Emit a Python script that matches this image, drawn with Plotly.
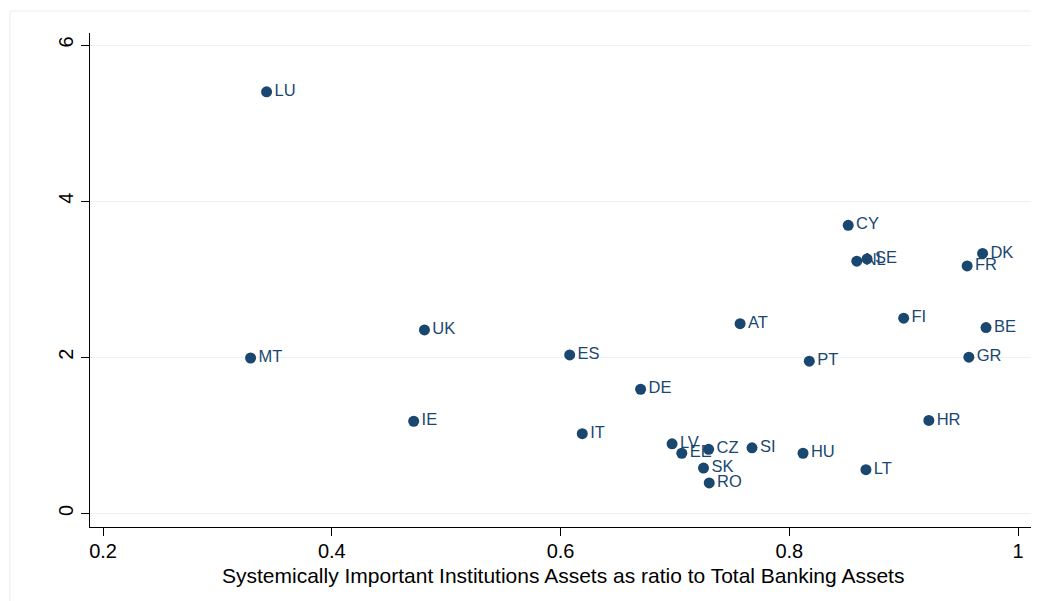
import plotly.graph_objects as go

countries = ["LU", "CY", "NL", "SE", "DK", "FR", "FI", "BE", "GR", "AT", "PT",
             "UK", "MT", "ES", "DE", "IE", "IT", "HR", "LV", "EE", "CZ", "SI",
             "HU", "SK", "RO", "LT"]
sii_ratio = [0.343, 0.8515, 0.859, 0.868, 0.969, 0.9555, 0.900, 0.972, 0.957, 0.757, 0.8175,
             0.481, 0.329, 0.608, 0.670, 0.4716, 0.619, 0.922, 0.6975, 0.706, 0.7295, 0.7674,
             0.812, 0.725, 0.730, 0.867]
y_value = [5.40, 3.69, 3.23, 3.26, 3.33, 3.17, 2.50, 2.38, 2.00, 2.43, 1.95,
           2.35, 1.99, 2.03, 1.59, 1.18, 1.02, 1.19, 0.89, 0.77, 0.82, 0.84,
           0.77, 0.58, 0.39, 0.56]

x_ticks = [0.2, 0.4, 0.6, 0.8, 1.0]
x_ticklabels = ["0.2", "0.4", "0.6", "0.8", "1"]
y_ticks = [0, 2, 4, 6]
x_title = "Systemically Important Institutions Assets as ratio to Total Banking Assets"

navy = "#1a476f"
FONT = "Liberation Sans, Arial, sans-serif"

fig = go.Figure()
fig.add_trace(go.Scatter(
    x=sii_ratio, y=y_value, mode="markers+text", text=countries,
    textposition="middle right",
    textfont=dict(family=FONT, size=16.5, color=navy),
    marker=dict(size=11, color=navy, line=dict(width=0)),
    showlegend=False, hoverinfo="x+y+text",
))

# page body has an 8px margin, so the margins compensate for it
fig.update_layout(
    width=1039, height=601,
    margin=dict(l=82, r=15, t=25, b=82),
    paper_bgcolor="white", plot_bgcolor="white",
    font=dict(family=FONT, color="black"),
    shapes=[dict(type="rect", xref="paper", yref="paper",
                 x0=-0.0849, x1=1.0064, y0=-0.152, y1=1.0445,
                 line=dict(color="#e6eef0", width=1), fillcolor="rgba(0,0,0,0)",
                 layer="below")],
    annotations=[dict(text=x_title, xref="paper", yref="paper", x=0.502, y=-0.0972,
                      xanchor="center", yanchor="middle", showarrow=False,
                      font=dict(family=FONT, size=21, color="black"))],
)
fig.update_xaxes(
    range=[0.1886, 1.0122], tickvals=x_ticks, ticktext=x_ticklabels,
    showgrid=False, zeroline=False,
    showline=True, linecolor="black", linewidth=1,
    ticks="outside", ticklen=8, tickcolor="black", tickwidth=1,
    ticklabelstandoff=-2,
    tickfont=dict(size=20, color="black"),
)
fig.update_yaxes(
    range=[-0.175, 6.154], tickvals=y_ticks, tickangle=-90,
    showgrid=True, gridcolor="#eaf2f3", gridwidth=1, zeroline=False,
    showline=True, linecolor="black", linewidth=1,
    ticks="outside", ticklen=8, tickcolor="black", tickwidth=1,
    tickfont=dict(size=20, color="black"),
)

fig.write_html("out.html")
